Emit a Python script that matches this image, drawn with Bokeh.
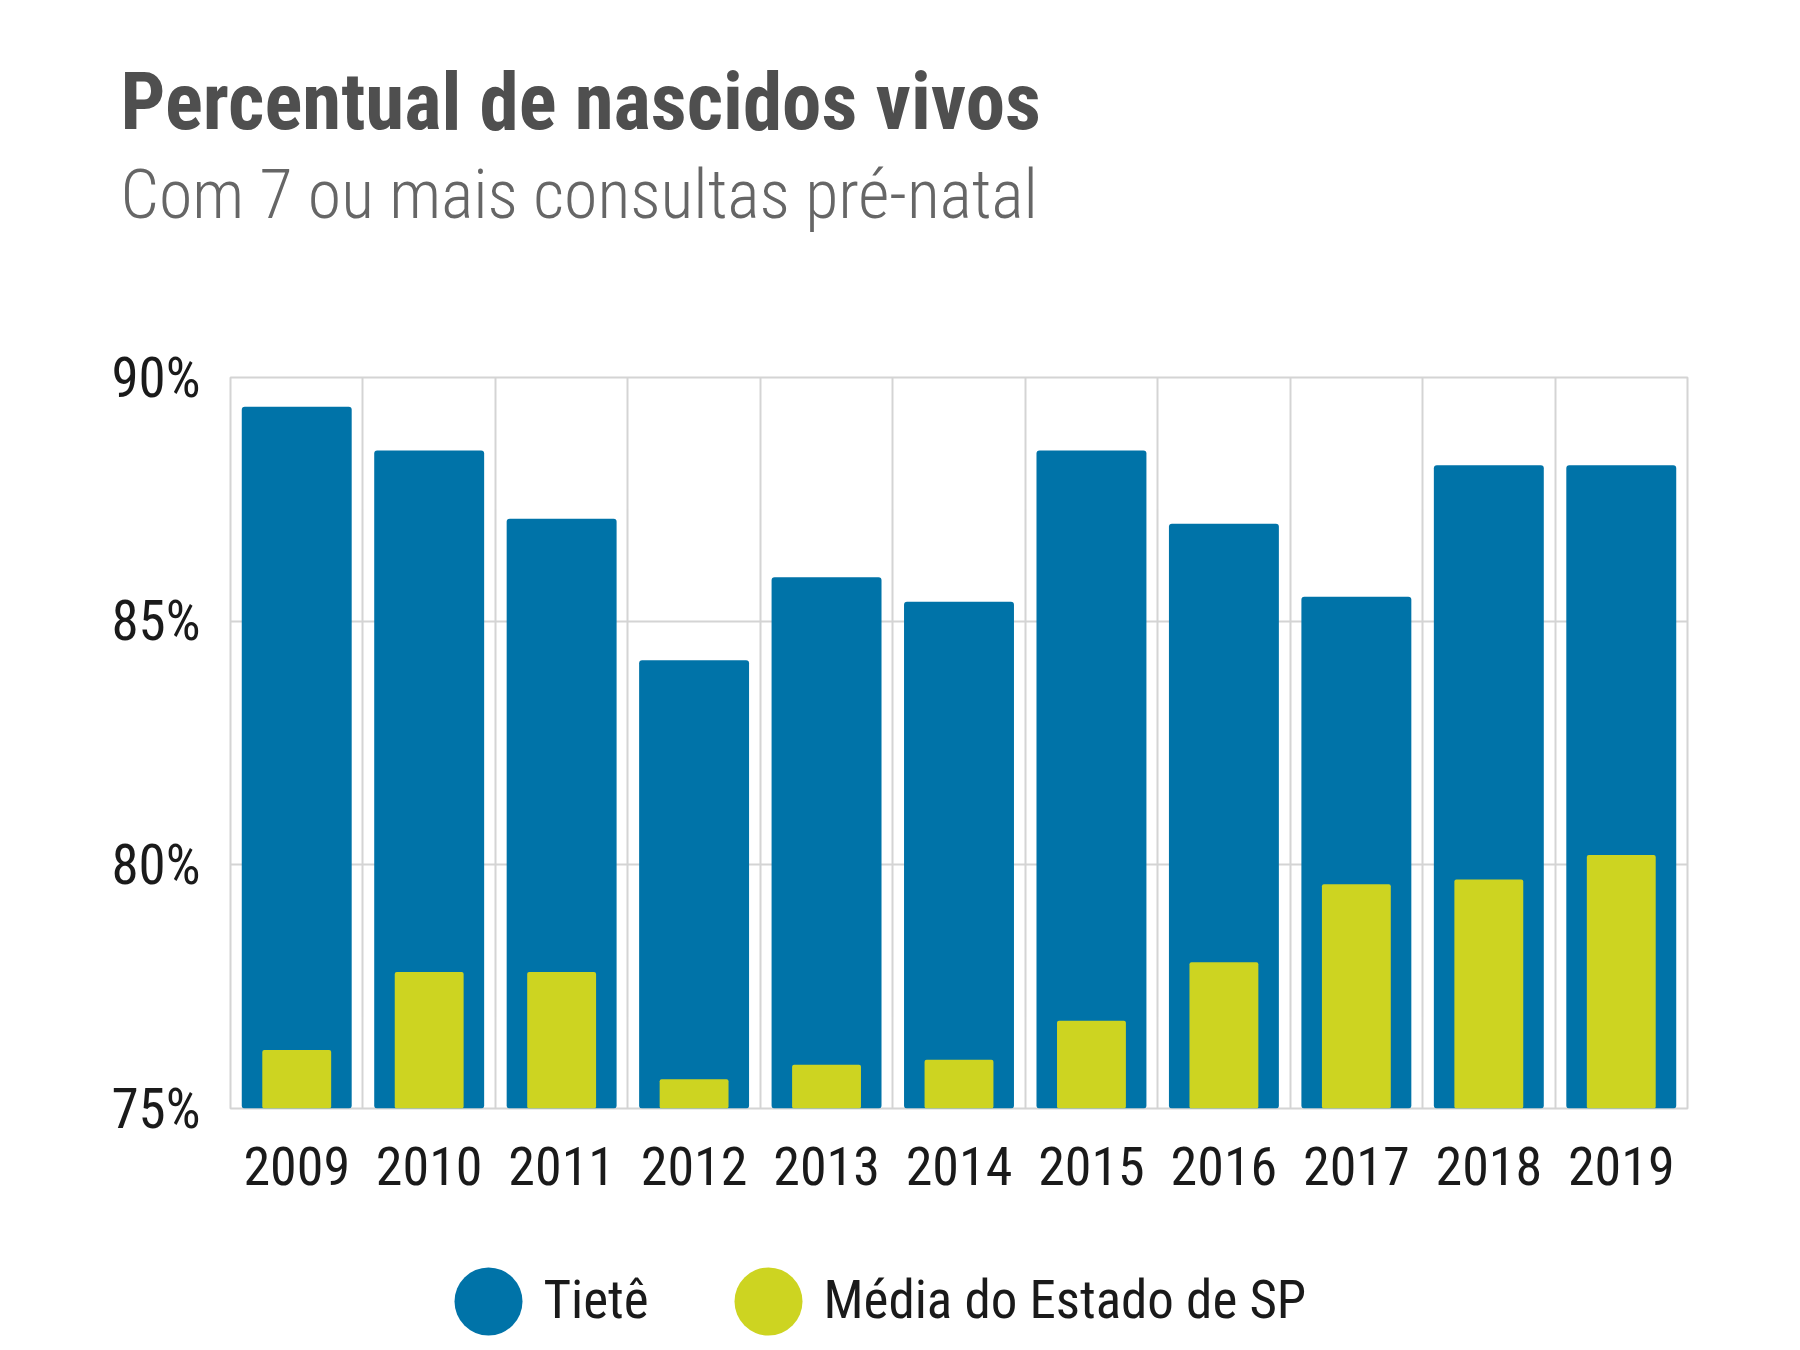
from bokeh.plotting import figure
from bokeh.layouts import column
from bokeh.models import ColumnDataSource, FixedTicker, PrintfTickFormatter, Range1d, Title
from bokeh.core.properties import value
from bokeh.embed import file_html
from bokeh.resources import INLINE

# data
years = [2009, 2010, 2011, 2012, 2013, 2014, 2015, 2016, 2017, 2018, 2019]
tiete = [89.4, 88.5, 87.1, 84.2, 85.9, 85.4, 88.5, 87.0, 85.5, 88.2, 88.2]
media_sp = [76.2, 77.8, 77.8, 75.6, 75.9, 76.0, 76.8, 78.0, 79.6, 79.7, 80.2]
y_ticks = [75, 80, 85, 90]

title = "Percentual de nascidos vivos"
subtitle = "Com 7 ou mais consultas pré-natal"
series_names = ["Tietê", "Média do Estado de SP"]

BLUE = "#0073a8"
YELLOW = "#cdd421"
GRID = "#d4d4d4"
FONT = "'Roboto Condensed', 'Liberation Sans Narrow', 'DejaVu Sans Condensed', sans-serif"
LIGHT_FONT = "'Roboto Condensed Light', 'Roboto Condensed', 'Liberation Sans Narrow', sans-serif"
W = 1784
LEFT, RIGHT = 230, 97   # space around the plot frame, shared by all figures


def strip(height, **kw):
    # a figure without axes or grid, used for the header and the legend rows
    f = figure(width=W, height=height, output_backend="svg", toolbar_location=None,
               min_border_left=LEFT, min_border_right=RIGHT,
               outline_line_color=None, **kw)
    f.axis.visible = False
    f.grid.visible = False
    return f


# header: title on top, subtitle under it
head = strip(249, title=title, min_border_top=239, min_border_bottom=0)
head.title.text_font = FONT
head.title.text_font_style = "bold"
head.title.text_font_size = "79px"
head.title.text_color = "#4f4f4f"
head.title.align = "left"
head.title.offset = -110
head.title.standoff = 0
head.add_layout(Title(text=subtitle, text_font=LIGHT_FONT, text_font_style="normal",
                      text_font_size="68px", text_color="#666666",
                      align="left", offset=-110, standoff=10), "above")

# main chart
source = ColumnDataSource(data=dict(year=years, tiete=tiete, media=media_sp))

p = figure(width=W, height=964, output_backend="svg", toolbar_location=None,
           x_range=Range1d(years[0] - 0.5, years[-1] + 0.5),
           y_range=Range1d(y_ticks[0], y_ticks[-1]),
           min_border_left=LEFT, min_border_right=RIGHT,
           min_border_top=128, min_border_bottom=105)

p.vbar(x="year", top="tiete", bottom=y_ticks[0], width=0.83, source=source,
       fill_color=BLUE, line_color=None, border_radius=3)
p.vbar(x="year", top="media", bottom=y_ticks[0], width=0.52, source=source,
       fill_color=YELLOW, line_color=None, border_radius=2)

# grid: horizontal at ticks, vertical between years
p.outline_line_color = GRID
p.outline_line_width = 2
p.ygrid.ticker = FixedTicker(ticks=y_ticks)
p.ygrid.grid_line_color = GRID
p.ygrid.grid_line_width = 2
p.xgrid.ticker = FixedTicker(ticks=[y - 0.5 for y in years] + [years[-1] + 0.5])
p.xgrid.grid_line_color = GRID
p.xgrid.grid_line_width = 2
p.grid.level = "image"

for ax in (p.xaxis, p.yaxis):
    ax.axis_line_color = None
    ax.major_tick_line_color = None
    ax.minor_tick_line_color = None
    ax.major_label_text_font = FONT
    ax.major_label_text_color = "#1a1a1a"

p.xaxis.ticker = FixedTicker(ticks=years)
p.xaxis.formatter = PrintfTickFormatter(format="%d")
p.xaxis.major_label_text_font_size = "54px"
p.xaxis.major_label_standoff = 32

p.yaxis.ticker = FixedTicker(ticks=y_ticks)
p.yaxis.formatter = PrintfTickFormatter(format="%d%%")
p.yaxis.major_label_text_font_size = "55px"
p.yaxis.major_label_standoff = 24

# legend row below, x in page pixels (its frame lines up with the plot frame)
leg = strip(130, x_range=Range1d(LEFT, W - RIGHT), y_range=Range1d(0, 130),
            min_border_top=0, min_border_bottom=0)
leg.scatter(x=[488, 768], y=[42, 42], size=68, marker="circle",
            fill_color=[BLUE, YELLOW], line_color=None)
leg.text(x=[543, 823], y=[44, 44], text=series_names, text_font=value(FONT),
         text_font_size="53px", text_color="#1a1a1a", text_baseline="alphabetic")

layout = column(head, p, leg, spacing=0)

open("out.html", "w").write(file_html(layout, INLINE))
